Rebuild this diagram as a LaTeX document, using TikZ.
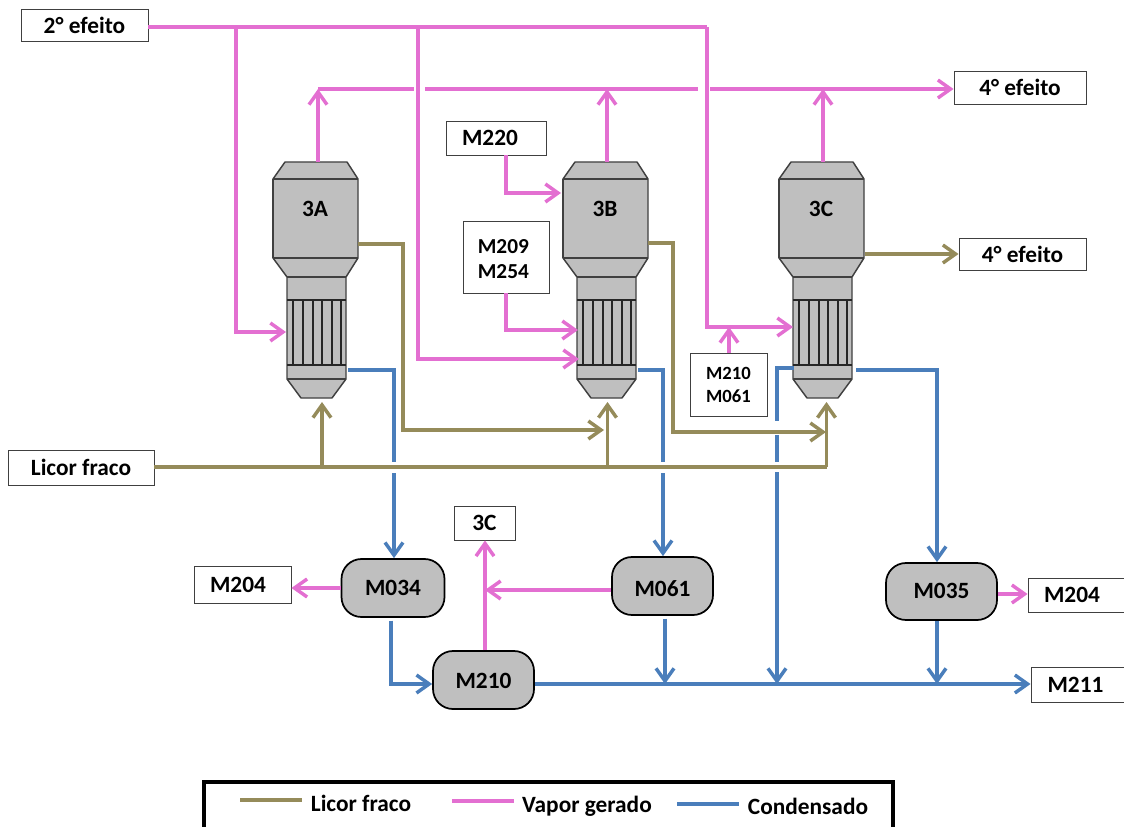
\documentclass[tikz,border=0pt]{standalone}
\usepackage{fontspec}
\setmainfont{Carlito}
\usetikzlibrary{arrows.meta,calc}
\definecolor{vapor}{HTML}{E36FD1}
\definecolor{licor}{HTML}{958B5A}
\definecolor{cond}{HTML}{4A7EBB}
\definecolor{vessel}{HTML}{BFBFBF}
\definecolor{edgec}{HTML}{404040}
\tikzset{
  txt/.style={font=\fontsize{17.5}{20}\selectfont\bfseries,text=black,align=center,inner sep=0pt},
  labelbox/.style={txt,draw=edgec,line width=0.7pt,fill=white},
  tank/.style={txt,draw=black,line width=1.3pt,fill=vessel,rounded corners=15pt},
  flow/.style={line width=2.6pt,line join=miter,-{Straight Barb[length=9.5pt,width=13.5pt,line width=2.6pt]}},
  plain/.style={line width=2.6pt,line join=miter},
  shell/.style={fill=vessel,draw=edgec,line width=1.1pt,line join=round},
  tubeline/.style={draw=black!85,line width=1.5pt},
  va/.style={flow,draw=vapor}, vp/.style={plain,draw=vapor},
  li/.style={flow,draw=licor}, lp/.style={plain,draw=licor},
  co/.style={flow,draw=cond}, cp/.style={plain,draw=cond},
}
\newcommand{\evaporador}[2]{%
  \begin{scope}[shift={(#1,0)}]
    \path[shell] (285,162)--(347,162)--(358,179)--(358,258)--(346,277)--(346,379)--(332,398)--(301,398)--(287,379)--(287,277)--(273,258)--(273,179)--cycle;
    \draw[edgec,line width=2pt] (273,179)--(273,258);
    \draw[edgec,line width=1.1pt] (273,179)--(358,179) (273,258)--(358,258) (287,277)--(346,277) (287,379)--(346,379);
    \draw[tubeline] (287,300)--(346,300) (287,365)--(346,365)
      (293,300)--(293,365) (303,300)--(303,365) (313,300)--(313,365)
      (322,300)--(322,365) (332,300)--(332,365) (341,300)--(341,365);
    \node[txt] (#2) at (315,209) {#2};
  \end{scope}}
% #1 = box height: the larger it is, the lower the text sits in its node
\newcommand{\rz}[2]{\raisebox{0pt}[#1][0pt]{#2}}
\begin{document}
\begin{tikzpicture}[x=0.75pt,y=-0.75pt]
\useasboundingbox (0,0) rectangle (1124,827);

% vessels
\evaporador{0}{3A}
\evaporador{290}{3B}
\evaporador{506}{3C}

% label boxes
\node[labelbox,minimum width=95.25pt,minimum height=24pt] (ef2) at (84.5,25) {2° efeito};
\node[labelbox,minimum width=99pt,minimum height=24.75pt] (ef4a) at (1020,87.5) {4° efeito};
\node[labelbox,minimum width=95.25pt,minimum height=24pt] (ef4b) at (1022.5,254) {4° efeito};
\node[labelbox,minimum width=75pt,minimum height=25.5pt] (m220) at (496,138) {\rz{12pt}{M220}\hspace*{9pt}};
\node[labelbox,minimum width=64.5pt,minimum height=54pt,font=\fontsize{16}{19}\selectfont\bfseries] (m209) at (506,257) {\rule{0pt}{13.5pt}M209\hspace*{4pt}\\M254\hspace*{4pt}};
\node[labelbox,minimum width=57.75pt,minimum height=47.25pt,font=\fontsize{14}{17}\selectfont\bfseries] (m210b) at (728.5,385) {M210\\M061};
\node[labelbox,minimum width=109.5pt,minimum height=26.25pt] (licor) at (81,467.5) {Licor fraco};
\node[labelbox,minimum width=45.75pt,minimum height=25.5pt] (c3) at (484.5,523) {3C};
\node[labelbox,minimum width=72.75pt,minimum height=27.75pt] (m204a) at (242.5,584.5) {M204\hspace*{6.8pt}};
\node[labelbox,minimum width=72pt,minimum height=25.5pt] (m204b) at (1076,595) {M204\hspace*{6pt}};
\node[labelbox,minimum width=69.75pt,minimum height=26.25pt] (m211) at (1077.5,684.5) {M211\hspace*{3pt}};

% tanks
\node[tank,minimum width=77.25pt,minimum height=43.5pt] (m034) at (393,588) {\rz{11.2pt}{M034}};
\node[tank,minimum width=75.75pt,minimum height=43.5pt] (m061) at (662.5,586) {\rz{15.7pt}{M061}};
\node[tank,minimum width=83.25pt,minimum height=42.75pt] (m035) at (941.5,591.5) {\rz{11.2pt}{M035}};
\node[tank,minimum width=75.75pt,minimum height=43.5pt] (m210) at (483.5,680) {\rz{12.7pt}{M210}};

% steam feed
\coordinate (A1) at (236,27);
\coordinate (A2) at (236,332);
\coordinate (A3) at (286,332);
\coordinate (B1) at (418,27);
\coordinate (B2) at (418,359);
\coordinate (B3) at (579,359);
\coordinate (C1) at (707,27);
\coordinate (C2) at (707,327);
\coordinate (C3) at (793,327);
\draw[vp] (ef2.east |- A1) -- (C1);
\draw[va] (A1) -- (A2) -- (A3);
\draw[va] (B1) -- (B2) -- (B3);
\draw[va] (C1) -- (C2) -- (C3);
\coordinate (C4) at (729,327);
\draw[va] (m210b.north -| C4) -- (C4);
\coordinate (D1) at (506,193);
\coordinate (D2) at (561,193);
\draw[va] (m220.south -| D1) -- (D1) -- (D2);
\coordinate (E1) at (506,330);
\coordinate (E2) at (578,330);
\draw[va] (m209.south -| E1) -- (E1) -- (E2);

% generated vapour
\coordinate (F0) at (318,162);
\coordinate (F1) at (318,89);
\coordinate (F2) at (414,89);
\coordinate (F3) at (425,89);
\coordinate (F4) at (698,89);
\coordinate (F5) at (710,89);
\coordinate (G0) at (607,162);
\coordinate (G1) at (607,89);
\coordinate (H0) at (823,162);
\coordinate (H1) at (823,89);
\draw[vp] (F1) -- (F2);
\draw[vp] (F3) -- (F4);
\draw[va] (F5) -- (ef4a.west |- F5);
\draw[va] (F0) -- (F1);
\draw[va] (G0) -- (G1);
\draw[va] (H0) -- (H1);

% M0xx vapour
\coordinate (J1) at (485,590);
\draw[va] (m210.north -| J1) -- (c3.south -| J1);
\draw[va] (m061.west |- J1) -- (J1);
\coordinate (J2) at (342,588);
\draw[va] (m034.west |- J2) -- (m204a.east |- J2);
\coordinate (J3) at (997,594);
\draw[va] (m035.east |- J3) -- (m204b.west |- J3);

% black liquor
\coordinate (K1) at (358,244);
\coordinate (K2) at (403,244);
\coordinate (K3) at (403,430);
\coordinate (K4) at (604,430);
\draw[li] (K1) -- (K2) -- (K3) -- (K4);
\coordinate (L1) at (648,243);
\coordinate (L2) at (673,243);
\coordinate (L3) at (673,432);
\coordinate (L4) at (826,432);
\draw[li] (L1) -- (L2) -- (L3) -- (L4);
\coordinate (M1) at (865,254);
\draw[li] (M1) -- (ef4b.west |- M1);
\coordinate (N0) at (322,467);
\coordinate (N1) at (322,402);
\coordinate (N2) at (607.5,467);
\coordinate (N3) at (607.5,402);
\coordinate (N4) at (826.5,467);
\coordinate (N5) at (826.5,402);
\draw[lp] (licor.east |- N0) -- (N4);
\draw[li] (N0) -- (N1);
\draw[li] (N2) -- (N3);
\draw[li] (N4) -- (N5);

% condensate
\coordinate (P1) at (348,370);
\coordinate (P2) at (394,370);
\coordinate (P3) at (394,462);
\coordinate (P4) at (394,473);
\draw[cp] (P1) -- (P2) -- (P3);
\draw[co] (P4) -- (m034.north -| P4);
\coordinate (Q1) at (638,370);
\coordinate (Q2) at (663,370);
\coordinate (Q3) at (663,462);
\coordinate (Q4) at (663,473);
\draw[cp] (Q1) -- (Q2) -- (Q3);
\draw[co] (Q4) -- (m061.north -| Q4);
\coordinate (R1) at (856,370);
\coordinate (R2) at (937,370);
\draw[co] (R1) -- (R2) -- (m035.north -| R2);
\coordinate (S1) at (794,368);
\coordinate (S2) at (777,368);
\coordinate (S3) at (777,421);
\coordinate (S4) at (777,435);
\coordinate (S5) at (777,462);
\coordinate (S6) at (777,472);
\coordinate (S7) at (777,684);
\draw[cp] (S1) -- (S2) -- (S3);
\draw[cp] (S4) -- (S5);
\draw[co] (S6) -- (S7);
\coordinate (T1) at (391,684);
\draw[co] ([yshift=-2pt]m034.south -| T1) -- (T1) -- (m210.west |- T1);
\coordinate (T2) at (665,684);
\draw[co] ([yshift=-2pt]m061.south -| T2) -- (T2);
\coordinate (T3) at (937,684);
\draw[co] (m035.south -| T3) -- (T3);
\draw[co] (m210.east |- T1) -- (m211.west |- T1);

% legend
\coordinate (W1) at (204,827);
\coordinate (W2) at (204,782);
\coordinate (W3) at (893,782);
\coordinate (W4) at (893,827);
\draw[black,line width=2.4pt] (W1) -- (W2) -- (W3) -- (W4);
\coordinate (X1) at (240,800);
\coordinate (X2) at (302,800);
\coordinate (X3) at (452,801);
\coordinate (X4) at (514,801);
\coordinate (X5) at (677,804);
\coordinate (X6) at (739,804);
\draw[lp,line width=3.4pt] (X1) -- (X2);
\draw[vp,line width=3.4pt] (X3) -- (X4);
\draw[cp,line width=3.4pt] (X5) -- (X6);
\node[txt] (lg1) at (361,803) {Licor fraco};
\node[txt] (lg2) at (587,806) {Vapor gerado};
\node[txt] (lg3) at (808,806) {Condensado};
\end{tikzpicture}
\end{document}
